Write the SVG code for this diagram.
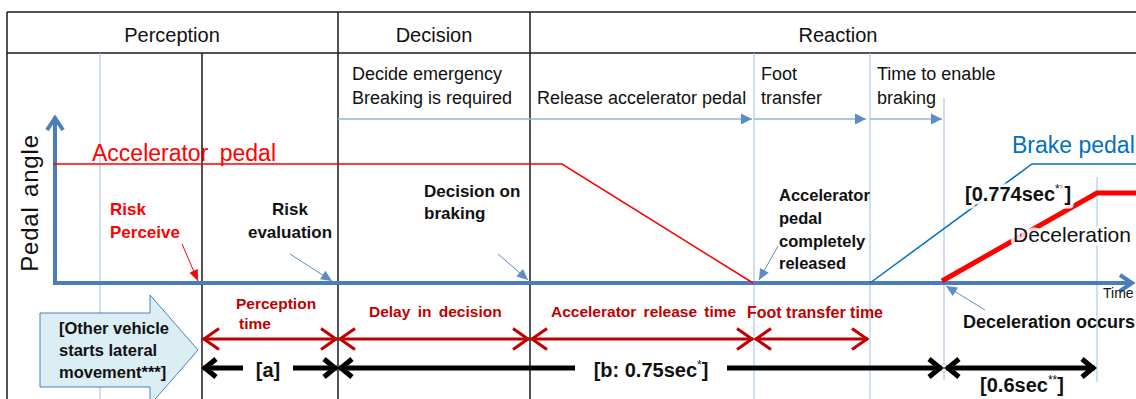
<svg xmlns="http://www.w3.org/2000/svg" width="1136" height="399" viewBox="0 0 1136 399">
<style>
text{font-family:"Liberation Sans",Arial,sans-serif}
.tbl{stroke:#1a1a1a;stroke-width:1.5;fill:none}
.lb{stroke:#9CBDE6;stroke-width:1;fill:none}
.hdr{font-size:20px;fill:#111;text-anchor:middle}
.ph{font-size:18px;fill:#111}
.bb{font-size:17px;font-weight:bold;fill:#111}
.bs{font-size:16.5px;font-weight:bold;fill:#111}
.rl{font-size:15.5px;font-weight:bold;fill:#C00000}
.dim{font-size:20px;font-weight:bold;fill:#111}
.ann{stroke:#5B8BC9;stroke-width:1;fill:none;marker-end:url(#ah)}
.halo{paint-order:stroke;stroke:#fff;stroke-opacity:0.85;stroke-width:7;stroke-linejoin:round}
</style>
<defs>
<marker id="ah" viewBox="-12 -6 14 12" refX="0" refY="0" markerWidth="14" markerHeight="12" markerUnits="userSpaceOnUse" orient="auto"><path d="M-11,-5 L0,0 L-11,5 Z" fill="#5B8BC9"/></marker>
<marker id="ahr" viewBox="-12 -6 14 12" refX="0" refY="0" markerWidth="14" markerHeight="12" markerUnits="userSpaceOnUse" orient="auto"><path d="M-11,-4.5 L0,0 L-11,4.5 Z" fill="#FF0000"/></marker>
<marker id="tl" viewBox="-12 -7 14 14" refX="0" refY="0" markerWidth="14" markerHeight="14" markerUnits="userSpaceOnUse" orient="auto"><path d="M-11,-5.5 L0,0 L-11,5.5 Z" fill="#5B8BC9"/></marker>
<marker id="ax" viewBox="-16 -11 20 22" refX="0" refY="0" markerWidth="20" markerHeight="22" markerUnits="userSpaceOnUse" orient="auto"><path d="M-13,-8 L-1,0 L-13,8" fill="none" stroke="#4A7EBB" stroke-width="4"/></marker>
<marker id="rc" viewBox="-18 -12 22 24" refX="0" refY="0" markerWidth="22" markerHeight="24" markerUnits="userSpaceOnUse" orient="auto-start-reverse"><path d="M-16,-10.5 L-1,0 L-16,10.5" fill="none" stroke="#C00000" stroke-width="3"/></marker>
<marker id="bc" viewBox="-18 -12 22 24" refX="0" refY="0" markerWidth="22" markerHeight="24" markerUnits="userSpaceOnUse" orient="auto-start-reverse"><path d="M-13,-9 L-2,0 L-13,9" fill="none" stroke="#000" stroke-width="5"/></marker>
</defs>
<rect width="1136" height="399" fill="#fff"/>
<g id="table">
<line class="tbl" x1="7" y1="12" x2="1136" y2="12"/>
<line class="tbl" x1="7" y1="53" x2="1136" y2="53"/>
<line class="tbl" x1="7" y1="12" x2="7" y2="399"/>
<line class="tbl" x1="202" y1="53" x2="202" y2="399"/>
<line class="tbl" x1="338" y1="12" x2="338" y2="399"/>
<line class="tbl" x1="530" y1="12" x2="530" y2="399"/>
<text class="hdr" x="172" y="42">Perception</text>
<text class="hdr" x="434" y="42">Decision</text>
<text class="hdr" x="838" y="42">Reaction</text>
</g>
<g id="guides">
<line class="lb" x1="100" y1="53" x2="100" y2="399"/>
<line class="lb" x1="754" y1="53" x2="754" y2="399"/>
<line class="lb" x1="870" y1="53" x2="870" y2="399"/>
<line class="lb" x1="944" y1="98" x2="944" y2="380"/>
<line class="lb" x1="1097" y1="177" x2="1097" y2="382"/>
</g>
<g id="phases">
<line stroke="#8EB4E3" stroke-width="1.5" x1="338" y1="119" x2="752" y2="119" marker-end="url(#tl)"/>
<line stroke="#8EB4E3" stroke-width="1.5" x1="754" y1="119" x2="866" y2="119" marker-end="url(#tl)"/>
<line stroke="#8EB4E3" stroke-width="1.5" x1="870" y1="119" x2="942" y2="119" marker-end="url(#tl)"/>
<text class="ph" x="352" y="80">Decide emergency</text>
<text class="ph" x="352" y="104">Breaking is required</text>
<text class="ph" x="537" y="104">Release accelerator pedal</text>
<text class="ph" x="761" y="80">Foot</text>
<text class="ph" x="761" y="104">transfer</text>
<text class="ph" x="877" y="80">Time to enable</text>
<text class="ph" x="877" y="104">braking</text>
</g>
<g id="axes">
<line x1="55" y1="285" x2="55" y2="117" stroke="#4A7EBB" stroke-width="4" marker-end="url(#ax)"/>
<line x1="53" y1="283" x2="1133" y2="283" stroke="#4A7EBB" stroke-width="4" marker-end="url(#ax)"/>
<text transform="translate(38,203) rotate(-90)" text-anchor="middle" font-size="24" letter-spacing="0.8" word-spacing="2" fill="#111">Pedal angle</text>
<text x="1103" y="298" font-size="14" fill="#111">Time</text>
</g>
<g id="curves">
<path d="M53,164 L562,164 L753,283" fill="none" stroke="#FF0000" stroke-width="1.5"/>
<text x="92" y="161" font-size="23" word-spacing="5" fill="#FF0000">Accelerator pedal</text>
<path d="M870,283 L1032,164 L1136,164" fill="none" stroke="#0070C0" stroke-width="1.5"/>
<text x="1012" y="153" font-size="23" fill="#0070C0">Brake pedal</text>
<path d="M942,281 L1097,193 L1136,193" fill="none" stroke="#FF0000" stroke-width="5"/>
<text class="halo" x="965" y="201" font-size="20" font-weight="bold" fill="#111">[0.774sec<tspan font-size="12" font-weight="normal" dy="-8">**</tspan><tspan dy="8">]</tspan></text>
<text class="halo" x="1013" y="242" font-size="21" fill="#111">Deceleration</text>
</g>
<g id="events">
<text class="bb" x="110" y="215" style="fill:#FF0000">Risk</text>
<text class="bb" x="110" y="238" style="fill:#FF0000">Perceive</text>
<line x1="182" y1="244" x2="198" y2="281" stroke="#FF0000" stroke-width="1" marker-end="url(#ahr)"/>
<text class="bb" x="290" y="215" text-anchor="middle">Risk</text>
<text class="bb" x="290" y="238" text-anchor="middle">evaluation</text>
<line class="ann" x1="290" y1="254" x2="332" y2="281"/>
<text class="bb" x="424" y="197">Decision on</text>
<text class="bb" x="424" y="219">braking</text>
<line class="ann" x1="498" y1="254" x2="528" y2="280"/>
<text class="bs" x="779" y="201">Accelerator</text>
<text class="bs" x="779" y="224">pedal</text>
<text class="bs" x="779" y="247">completely</text>
<text class="bs" x="779" y="269">released</text>
<line class="ann" x1="778" y1="246" x2="759" y2="280"/>
<text class="bb" x="963" y="328" style="font-size:18px">Deceleration occurs</text>
<line class="ann" x1="985" y1="310" x2="946" y2="286"/>
</g>
<g id="start-arrow">
<path d="M40,313 L150,313 L150,295 L198,350 L150,405 L150,387 L40,387 Z" fill="#DBEEF4" stroke="#4A7EBB" stroke-width="1"/>
<text class="bs" x="59" y="334">[Other vehicle</text>
<text class="bs" x="59" y="356">starts lateral</text>
<text class="bs" x="59" y="378">movement***]</text>
</g>
<g id="connectors">
<line x1="203" y1="339" x2="337" y2="339" stroke="#C00000" stroke-width="3" marker-start="url(#rc)" marker-end="url(#rc)"/>
<line x1="339" y1="339" x2="529" y2="339" stroke="#C00000" stroke-width="3" marker-start="url(#rc)" marker-end="url(#rc)"/>
<line x1="531" y1="339" x2="753" y2="339" stroke="#C00000" stroke-width="3" marker-start="url(#rc)" marker-end="url(#rc)"/>
<line x1="755" y1="339" x2="868" y2="339" stroke="#C00000" stroke-width="3" marker-start="url(#rc)" marker-end="url(#rc)"/>
<line x1="203" y1="368" x2="243" y2="368" stroke="#000" stroke-width="5" marker-start="url(#bc)"/>
<line x1="293" y1="368" x2="337" y2="368" stroke="#000" stroke-width="5" marker-end="url(#bc)"/>
<line x1="339" y1="368" x2="575" y2="368" stroke="#000" stroke-width="5" marker-start="url(#bc)"/>
<line x1="727" y1="368" x2="942" y2="368" stroke="#000" stroke-width="5" marker-end="url(#bc)"/>
<line x1="946" y1="368" x2="1095" y2="368" stroke="#000" stroke-width="5" marker-start="url(#bc)" marker-end="url(#bc)"/>
</g>
<g id="labels">
<text class="rl" x="236" y="309">Perception</text>
<text class="rl" x="239" y="329">time</text>
<text class="rl" x="369" y="317" word-spacing="3">Delay in decision</text>
<text class="rl" x="551" y="317" word-spacing="3">Accelerator release time</text>
<text class="rl" x="747" y="318" style="font-size:16px">Foot transfer time</text>
<text class="dim" x="268" y="377" text-anchor="middle">[a]</text>
<text class="dim" x="651" y="377" text-anchor="middle">[b: 0.75sec<tspan font-size="12" font-weight="normal" dy="-8">*</tspan><tspan dy="8">]</tspan></text>
<text class="dim" x="1022" y="392" text-anchor="middle">[0.6sec<tspan font-size="12" font-weight="normal" dy="-8">**</tspan><tspan dy="8">]</tspan></text>
</g>
</svg>
